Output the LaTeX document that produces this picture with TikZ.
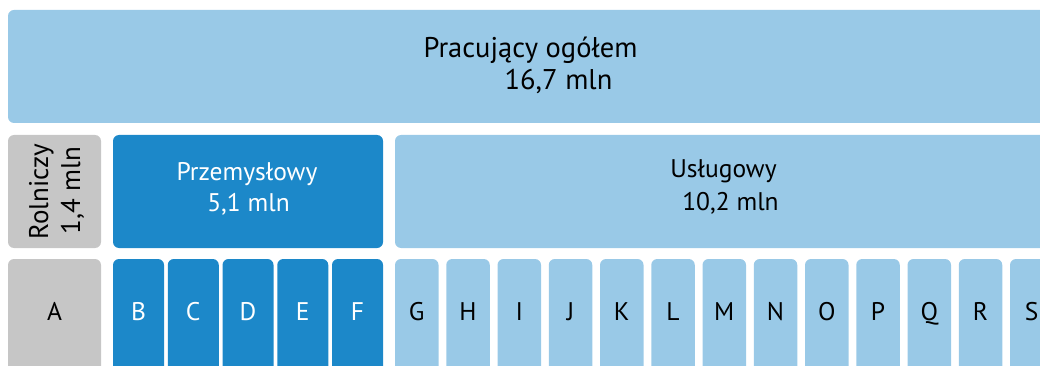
\documentclass[tikz,border=0pt]{standalone}
\usepackage{fontspec}
\setmainfont{PT Sans}
\usepackage{xcolor}
\usepackage{tikz}
\usetikzlibrary{positioning}
\definecolor{LightBlue}{HTML}{99C9E7}
\definecolor{DarkBlue}{HTML}{1C88C9}
\definecolor{LightGray}{HTML}{C6C6C6}

\begin{document}
\begin{tikzpicture}[x=1pt, y=-1pt,
		box/.style={rounded corners=6pt, anchor=north west, inner sep=0pt, outer sep=0pt},
		txt/.style={anchor=base, inner sep=0pt, font=\fontsize{25.5}{25.5}\selectfont},
		wtxt/.style={txt, text=white}]
		\useasboundingbox (0,0) rectangle (1040,366);
		% top bar
		\node[box, fill=LightBlue, minimum width=1060pt, minimum height=113pt] (ogol) at (8,10) {};
		\node[txt, font=\fontsize{28.5}{28.5}\selectfont] (ogolA) at (530.5,58) {Pracujący ogółem};
		\node[txt, font=\fontsize{28.5}{28.5}\selectfont] (ogolB) at (558.5,90) {16,7 mln};
		% sectors
		\node[box, fill=LightGray, minimum width=93pt, minimum height=113pt] (rol) at (8,135) {};
		\node[txt, rotate=90, font=\fontsize{27}{27}\selectfont] (rolA) at (48,192) {Rolniczy};
		\node[txt, rotate=90, font=\fontsize{27}{27}\selectfont] (rolB) at (80,190.5) {1,4 mln};
		\node[box, fill=DarkBlue, minimum width=270pt, minimum height=113pt] (prz) at (113,135) {};
		\node[wtxt] (przA) at (247,180) {Przemysłowy};
		\node[wtxt] (przB) at (248.5,211) {5,1 mln};
		\node[box, fill=LightBlue, minimum width=665pt, minimum height=113pt] (usl) at (395,135) {};
		\node[txt] (uslA) at (723.5,178) {Usługowy};
		\node[txt] (uslB) at (730.5,210) {10,2 mln};
		% sections
		\node[box, fill=LightGray, minimum width=93pt, minimum height=130pt] (secA) at (8,259) {};
		\node[txt] at (54.5,320) {A};
		\foreach \s [count=\i from 0] in {B,C,D,E,F} {
			\node[box, fill=DarkBlue, minimum width=51pt, minimum height=130pt] (sec\s) at ({113+54.75*\i},259) {};
			\node[wtxt] at ({138.5+54.75*\i},320) {\s};
		}
		\foreach \s [count=\i from 0] in {G,H,I,J,K,L,M,N,O,P,Q,R,S} {
			\node[box, fill=LightBlue, minimum width=43.5pt, minimum height=130pt] (sec\s) at ({395+51.25*\i},259) {};
			\node[txt] at ({416.75+51.25*\i},320) {\s};
		}
	\end{tikzpicture}
\end{document}
